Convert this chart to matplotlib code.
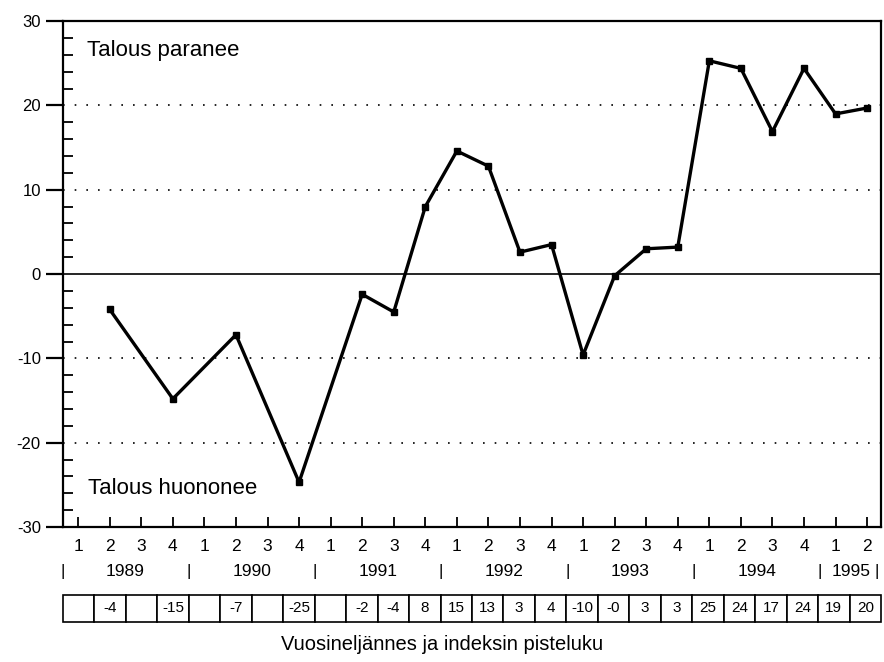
import matplotlib
matplotlib.use("Agg")
import matplotlib.pyplot as plt
import numpy as np

plt.rcParams['font.family'] = ['Liberation Sans', 'DejaVu Sans']
plt.rcParams['axes.unicode_minus'] = False

# neljännekset 1989 Q1 ... 1995 Q2
quarters = ['1', '2', '3', '4'] * 6 + ['1', '2']
years = ['1989', '1990', '1991', '1992', '1993', '1994', '1995']
year_pos = [1.5, 5.5, 9.5, 13.5, 17.5, 21.5, 24.5]
year_sep = [-0.5, 3.5, 7.5, 11.5, 15.5, 19.5, 23.5, 25.3]

# mitatut pisteet (indeksi = neljänneksen järjestysnumero)
point_idx = [1, 3, 5, 7, 9, 10, 11, 12, 13, 14, 15, 16, 17, 18, 19,
             20, 21, 22, 23, 24, 25]
point_val = [-4.2, -14.8, -7.2, -24.7, -2.4, -4.5, 8.0, 14.6, 12.8, 2.6, 3.5,
             -9.6, -0.2, 3.0, 3.2, 25.3, 24.4, 16.9, 24.4, 19.0, 19.7]

# pisteluvut taulukkoon
table_vals = ['', '-4', '', '-15', '', '-7', '', '-25', '', '-2', '-4', '8',
              '15', '13', '3', '4', '-10', '-0', '3', '3', '25', '24', '17',
              '24', '19', '20']

fig = plt.figure(figsize=(8.84, 6.62), dpi=100)
ax = fig.add_axes([0.0713, 0.204, 0.9253, 0.764])

ax.set_xlim(-0.48, 25.44)
ax.set_ylim(-30, 30)

# apuviivat
for g in [-20, -10, 10, 20]:
    ax.axhline(g, color='black', lw=1.2, linestyle=(0, (1, 6)), zorder=1)
ax.axhline(0, color='black', lw=1.2, zorder=1)

ax.plot(point_idx, point_val, color='black', lw=2.4, marker='s',
        markersize=5, zorder=3)

for s in ax.spines.values():
    s.set_linewidth(1.6)

ax.set_yticks(np.arange(-30, 31, 10))
ax.set_yticks(np.arange(-30, 31, 2), minor=True)
ax.tick_params(axis='y', which='major', direction='out', length=12, width=1.6,
               labelsize=12, pad=4)
ax.tick_params(axis='y', which='minor', direction='in', length=7, width=1.3)

ax.set_xticks(range(len(quarters)))
ax.set_xticklabels(quarters)
ax.tick_params(axis='x', which='major', direction='in', length=7, width=1.3,
               labelsize=12.5, pad=9)

ax.text(0.029, 0.943, 'Talous paranee', transform=ax.transAxes,
        fontsize=16, va='center', ha='left')
ax.text(0.031, 0.077, 'Talous huononee', transform=ax.transAxes,
        fontsize=16, va='center', ha='left')

# vuodet ja erottimet
xt = ax.get_xaxis_transform()
for y, p in zip(years, year_pos):
    ax.text(p, -0.089, y, transform=xt, ha='center', va='center', fontsize=12.5)
for p in year_sep:
    ax.text(p, -0.089, '|', transform=xt, ha='center', va='center', fontsize=12)

tab = ax.table(cellText=[table_vals], cellLoc='center',
               bbox=[0, -0.188, 1, 0.054])
tab.auto_set_font_size(False)
tab.set_fontsize(11)
for c in tab.get_celld().values():
    c.set_linewidth(1.2)

fig.text(0.5, 1 - 645 / 662, 'Vuosineljännes ja indeksin pisteluku',
         ha='center', va='center', fontsize=14.5)

fig.savefig('out.png', dpi=100)
